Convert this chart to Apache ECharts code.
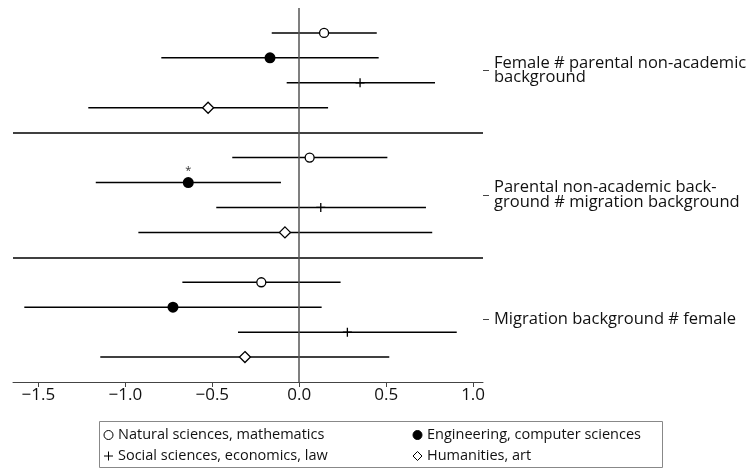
<!DOCTYPE html>
<html>
<head>
<meta charset="utf-8">
<script src="https://cdn.jsdelivr.net/npm/echarts@6/dist/echarts.min.js"></script>
<style>
html,body{margin:0;padding:0;background:#fff;}
#chart{width:750px;height:471px;}
</style>
</head>
<body>
<div id="chart"></div>
<script>
// ---- data ----
const groups = [
  "Female # parental non-academic\nbackground",
  "Parental non-academic back-\nground # migration background",
  "Migration background # female"
];
const subjects = [
  "Natural sciences, mathematics",
  "Engineering, computer sciences",
  "Social sciences, economics, law",
  "Humanities, art"
];
const xTicks = [-1.5, -1.0, -0.5, 0.0, 0.5, 1.0];

const natCoef = [0.143, 0.060, -0.218];
const natLo   = [-0.158, -0.385, -0.672];
const natHi   = [0.446, 0.507, 0.238];

const engCoef = [-0.168, -0.638, -0.726];
const engLo   = [-0.793, -1.170, -1.581];
const engHi   = [0.457, -0.105, 0.129];
const engSig  = ["", "*", ""];

const socCoef = [0.350, 0.124, 0.277];
const socLo   = [-0.072, -0.477, -0.352];
const socHi   = [0.781, 0.729, 0.906];

const humCoef = [-0.524, -0.082, -0.312];
const humLo   = [-1.213, -0.925, -1.144];
const humHi   = [0.166, 0.765, 0.518];
const noSig   = ["", "", ""];

// ---- build ----
const coefs = [natCoef, engCoef, socCoef, humCoef];
const los = [natLo, engLo, socLo, humLo];
const his = [natHi, engHi, socHi, humHi];
const sigs = [noSig, engSig, noSig, noSig];
const rowOf = (g, s) => g * 5 + s + 1;
const groupCenters = groups.map((_, g) => g * 5 + 2.5);
const separators = [5, 10];

const FONT = "Open Sans";
const symbols = ["circle", "circle", "path://M0,-1L0,1M-1,0L1,0", "diamond"];
const symSizes = [9, 11, 9, 11];
const symStyles = [
  {color: "#fff", borderColor: "#000", borderWidth: 1.3, opacity: 1},
  {color: "#000", borderColor: "#000", borderWidth: 0, opacity: 1},
  {color: "rgba(0,0,0,0)", borderColor: "#000", borderWidth: 1.3, opacity: 1},
  {color: "#fff", borderColor: "#000", borderWidth: 1.3, opacity: 1}
];

const ciData = [];
subjects.forEach((s, si) => {
  groups.forEach((g, gi) => {
    ciData.push([los[si][gi], his[si][gi], rowOf(gi, si)]);
  });
});

const series = [{
  type: "custom",
  name: "ci",
  z: 2,
  silent: true,
  encode: {x: [0, 1], y: 2},
  data: ciData,
  renderItem: function (params, api) {
    const a = api.coord([api.value(0), api.value(2)]);
    const b = api.coord([api.value(1), api.value(2)]);
    return {type: "line", shape: {x1: a[0], y1: a[1], x2: b[0], y2: b[1]},
      style: {stroke: "#000", lineWidth: 1.5}};
  },
  markLine: {
    silent: true, symbol: "none", label: {show: false}, animation: false,
    data: [
      ...separators.map(v => ({yAxis: v, lineStyle: {color: "#000", width: 1.5, type: "solid"}})),
      {xAxis: 0, lineStyle: {color: "#555", width: 1.5, type: "solid"}}
    ]
  }
}];

subjects.forEach((s, si) => {
  series.push({
    type: "scatter",
    name: s,
    z: 5,
    symbol: symbols[si],
    symbolSize: symSizes[si],
    itemStyle: symStyles[si],
    emphasis: {disabled: true},
    data: groups.map((g, gi) => ({
      value: [coefs[si][gi], rowOf(gi, si)],
      label: {
        show: sigs[si][gi] !== "",
        formatter: sigs[si][gi],
        position: "top",
        distance: 1,
        fontSize: 11,
        color: "#333",
        fontFamily: FONT
      }
    }))
  });
});

const legendCommon = {
  orient: "vertical",
  itemWidth: 9,
  itemHeight: 9,
  itemGap: 5,
  padding: 0,
  itemStyle: {borderWidth: 1},
  textStyle: {fontFamily: FONT, fontSize: 14.5, lineHeight: 16, color: "#111"}
};

const option = {
  animation: false,
  backgroundColor: "#fff",
  grid: {left: 13, right: 267, top: 8, bottom: 89, containLabel: false},
  xAxis: {
    type: "value",
    min: -1.646,
    max: 1.057,
    splitLine: {show: false},
    axisLine: {show: true, onZero: false, lineStyle: {color: "#444", width: 1}},
    axisTick: {show: true, length: 5, customValues: xTicks, lineStyle: {color: "#444"}},
    axisLabel: {
      customValues: xTicks,
      fontFamily: FONT, fontSize: 17, color: "#111", margin: 5,
      formatter: v => (v < 0 ? "\u2212" : "") + Math.abs(v).toFixed(1)
    }
  },
  yAxis: {
    type: "value",
    position: "right",
    inverse: true,
    min: 0,
    max: 15,
    splitLine: {show: false},
    axisLine: {show: false, onZero: false},
    axisTick: {show: true, length: 6, customValues: groupCenters, lineStyle: {color: "#444"}},
    axisLabel: {
      customValues: groupCenters,
      fontFamily: FONT, fontSize: 16.5, lineHeight: 14.5, color: "#111", margin: 11,
      formatter: v => groups[Math.round((v - 2.5) / 5)]
    }
  },
  legend: [
    Object.assign({}, legendCommon, {left: 103.5, top: 427, data: [subjects[0], subjects[2]]}),
    Object.assign({}, legendCommon, {left: 412.5, top: 427, data: [subjects[1], subjects[3]]})
  ],
  graphic: [{
    type: "rect",
    shape: {x: 99.5, y: 421.5, width: 563, height: 46},
    style: {fill: "none", stroke: "#888", lineWidth: 1},
    silent: true,
    z: -1
  }],
  series: series
};

const chart = echarts.init(document.getElementById("chart"), null, {renderer: "canvas"});
chart.setOption(option);
</script>
</body>
</html>
